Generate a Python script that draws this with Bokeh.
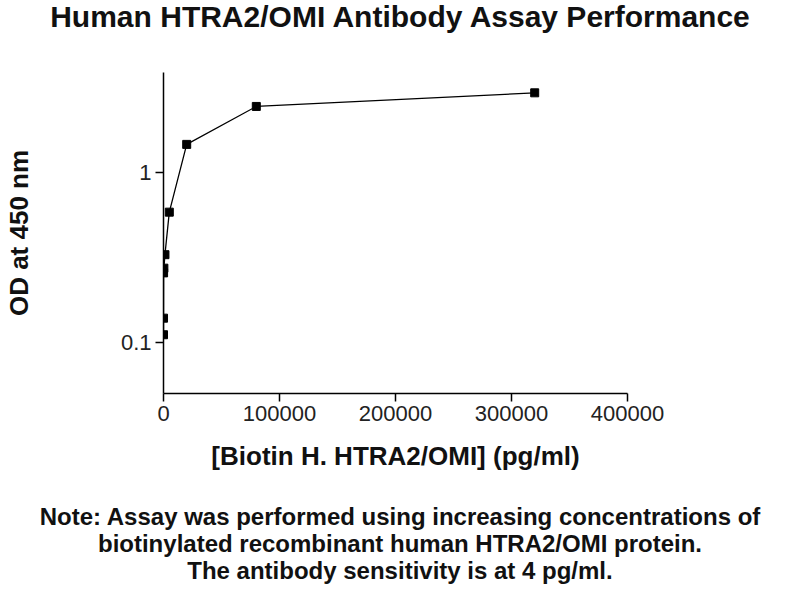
from bokeh.plotting import figure
from bokeh.layouts import column
from bokeh.models import FixedTicker, Div, PrintfTickFormatter
from bokeh.embed import file_html
from bokeh.resources import INLINE

# Biotinylated HTRA2/OMI concentration (pg/ml) and measured OD at 450 nm
conc = [4.88, 19.53, 78.13, 312.5, 1250, 5000, 20000, 80000, 320000]
od = [0.111, 0.139, 0.257, 0.274, 0.329, 0.586, 1.47, 2.46, 2.96]

x_ticks = [0, 100000, 200000, 300000, 400000]
y_ticks = [0.1, 1]
y_tick_labels = {0.1: "0.1", 1: "1"}

heading_text = "Human HTRA2/OMI Antibody Assay Performance"
note_lines = [
    "Note: Assay was performed using increasing concentrations of",
    "biotinylated recombinant human HTRA2/OMI protein.",
    "The antibody sensitivity is at 4 pg/ml.",
]

FONT = "Liberation Sans"
TEXT_STYLE = {"font-family": FONT, "font-weight": "bold", "color": "#111111",
              "text-align": "center", "width": "800px", "margin": "0", "padding": "0"}

heading = Div(text=heading_text, width=800, height=40, margin=0,
              styles=dict(TEXT_STYLE, **{"font-size": "30px", "line-height": "34px"}))

p = figure(width=800, height=450, y_axis_type="log",
           x_range=(0, 400000), y_range=(0.05, 3.9),
           output_backend="svg", toolbar_location=None, margin=0,
           min_border_left=163, min_border_right=173,
           min_border_top=32, min_border_bottom=97)
p.title.text = ""
p.title.standoff = 0

p.outline_line_color = None
p.xgrid.visible = False
p.ygrid.visible = False

for ax in (p.xaxis[0], p.yaxis[0]):
    ax.axis_line_color = "black"
    ax.axis_line_width = 1.5
    ax.major_tick_line_color = "black"
    ax.major_tick_line_width = 1.5
    ax.major_tick_in = 0
    ax.major_tick_out = 8
    ax.minor_tick_line_color = None
    ax.major_label_text_font = FONT
    ax.major_label_text_font_size = "22px"
    ax.major_label_text_color = "#222222"
    ax.axis_label_text_font = FONT
    ax.axis_label_text_font_size = "26px"
    ax.axis_label_text_font_style = "bold"
    ax.axis_label_text_color = "#111111"

p.xaxis.ticker = FixedTicker(ticks=x_ticks, minor_ticks=[])
p.xaxis.formatter = PrintfTickFormatter(format="%d")
p.xaxis.major_label_standoff = 4
p.xaxis.axis_label = "[Biotin H. HTRA2/OMI] (pg/ml)"
p.xaxis.axis_label_standoff = 17

p.yaxis.ticker = FixedTicker(ticks=y_ticks, minor_ticks=[])
p.yaxis.major_label_overrides = y_tick_labels
p.yaxis.major_label_standoff = 4
p.yaxis.axis_label = "OD at 450 nm"
p.yaxis.axis_label_standoff = 84

p.line(conc, od, line_color="black", line_width=1.3)
p.scatter(conc, od, marker="square", size=8, fill_color="black", line_color="black")

notes = Div(text="<br>".join(note_lines), width=800, height=110, margin=0,
            styles=dict(TEXT_STYLE, **{"font-size": "24px", "line-height": "27px",
                                       "padding-top": "13px"}))

page = column(heading, p, notes, spacing=0, margin=0)

open("out.html", "w").write(file_html(page, INLINE))
